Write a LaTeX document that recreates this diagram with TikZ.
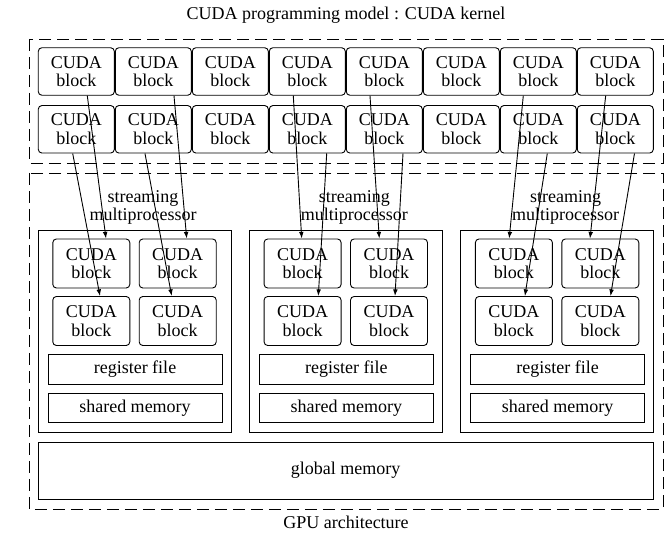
\documentclass[tikz,border=0pt]{standalone}
\usepackage{fontspec}
\setmainfont{Liberation Serif}
\usetikzlibrary{arrows.meta}
\newcommand\pxu{0.5556pt}
\begin{document}
\begin{tikzpicture}[x=0.5556pt,y=-0.5556pt,
  font=\fontsize{10}{10.4}\selectfont,
  kblock/.style={draw, rounded corners=2pt, line width=0.5pt, align=center,
    minimum width=76*\pxu, minimum height=47.5*\pxu, inner sep=0pt},
  sblock/.style={kblock, minimum width=77*\pxu, minimum height=49*\pxu},
  membox/.style={draw, line width=0.5pt, minimum width=174*\pxu,
    minimum height=29.5*\pxu, inner sep=0pt},
  smbox/.style={draw, line width=0.5pt},
  region/.style={draw, dash pattern=on 6.5pt off 3.5pt, line width=0.5pt},
  conn/.style={-{Latex[length=3.7pt,width=2.6pt]}, line width=0.5pt},
  lbl/.style={inner sep=0pt, align=center},
]
\useasboundingbox (0,0) rectangle (665,537);

\node[lbl] (title) at (346,15) {CUDA programming model : CUDA kernel};
\node[lbl] (footer) at (346,522) {GPU architecture};

\draw[region] (29,39) rectangle (663,163);
\draw[region] (29,173) rectangle (663,509);

\foreach \c in {1,...,8} {
  \node[kblock] (ka\c) at ({76.3+77*(\c-1)},71.5) {CUDA\\block};
  \node[kblock] (kb\c) at ({76.3+77*(\c-1)},129.3) {CUDA\\block};
}

\foreach \k in {1,2,3} {
  \pgfmathsetmacro\xl{38+211.3*(\k-1)}
  \draw[smbox] (\xl,230) rectangle ({\xl+193},432);
  \node[lbl, anchor=south] (sml\k) at ({\xl+105},225) {streaming\\multiprocessor};
  \node[sblock] (s\k a1) at ({\xl+53.3},263.5) {CUDA\\block};
  \node[sblock] (s\k a2) at ({\xl+139.7},263.5) {CUDA\\block};
  \node[sblock] (s\k b1) at ({\xl+53.3},321) {CUDA\\block};
  \node[sblock] (s\k b2) at ({\xl+139.7},321) {CUDA\\block};
  \node[membox] (rf\k) at ({\xl+97},369.5) {register file};
  \node[membox] (sh\k) at ({\xl+97},408) {shared memory};
}

\node[draw, line width=0.5pt, minimum width=615*\pxu, minimum height=57*\pxu,
  inner sep=0pt] (gm) at (345.5,470.5) {global memory};

\draw[conn] ([xshift=11*\pxu]ka1.south) -- ([xshift=14.7*\pxu]s1a1.north);
\draw[conn] ([xshift=-3.6*\pxu]kb1.south) -- ([xshift=8.7*\pxu]s1b1.north);
\draw[conn] ([xshift=20.7*\pxu]ka2.south) -- ([xshift=9*\pxu]s1a2.north);
\draw[conn] ([xshift=-8.3*\pxu]kb2.south) -- ([xshift=-6*\pxu]s1b2.north);
\draw[conn] ([xshift=-14*\pxu]ka4.south) -- ([xshift=-0.9*\pxu]s2a1.north);
\draw[conn] ([xshift=19.4*\pxu]kb4.south) -- ([xshift=15.7*\pxu]s2b1.north);
\draw[conn] ([xshift=-14.3*\pxu]ka5.south) -- ([xshift=-9.7*\pxu]s2a2.north);
\draw[conn] ([xshift=18.7*\pxu]kb5.south) -- ([xshift=6*\pxu]s2b2.north);
\draw[conn] ([xshift=-15*\pxu]ka7.south) -- ([xshift=-4.7*\pxu]s3a1.north);
\draw[conn] ([xshift=9*\pxu]kb7.south) -- ([xshift=11*\pxu]s3b1.north);
\draw[conn] ([xshift=-9.6*\pxu]ka8.south) -- ([xshift=-10.3*\pxu]s3a2.north);
\draw[conn] ([xshift=19.2*\pxu]kb8.south) -- ([xshift=10.2*\pxu]s3b2.north);
\end{tikzpicture}
\end{document}
